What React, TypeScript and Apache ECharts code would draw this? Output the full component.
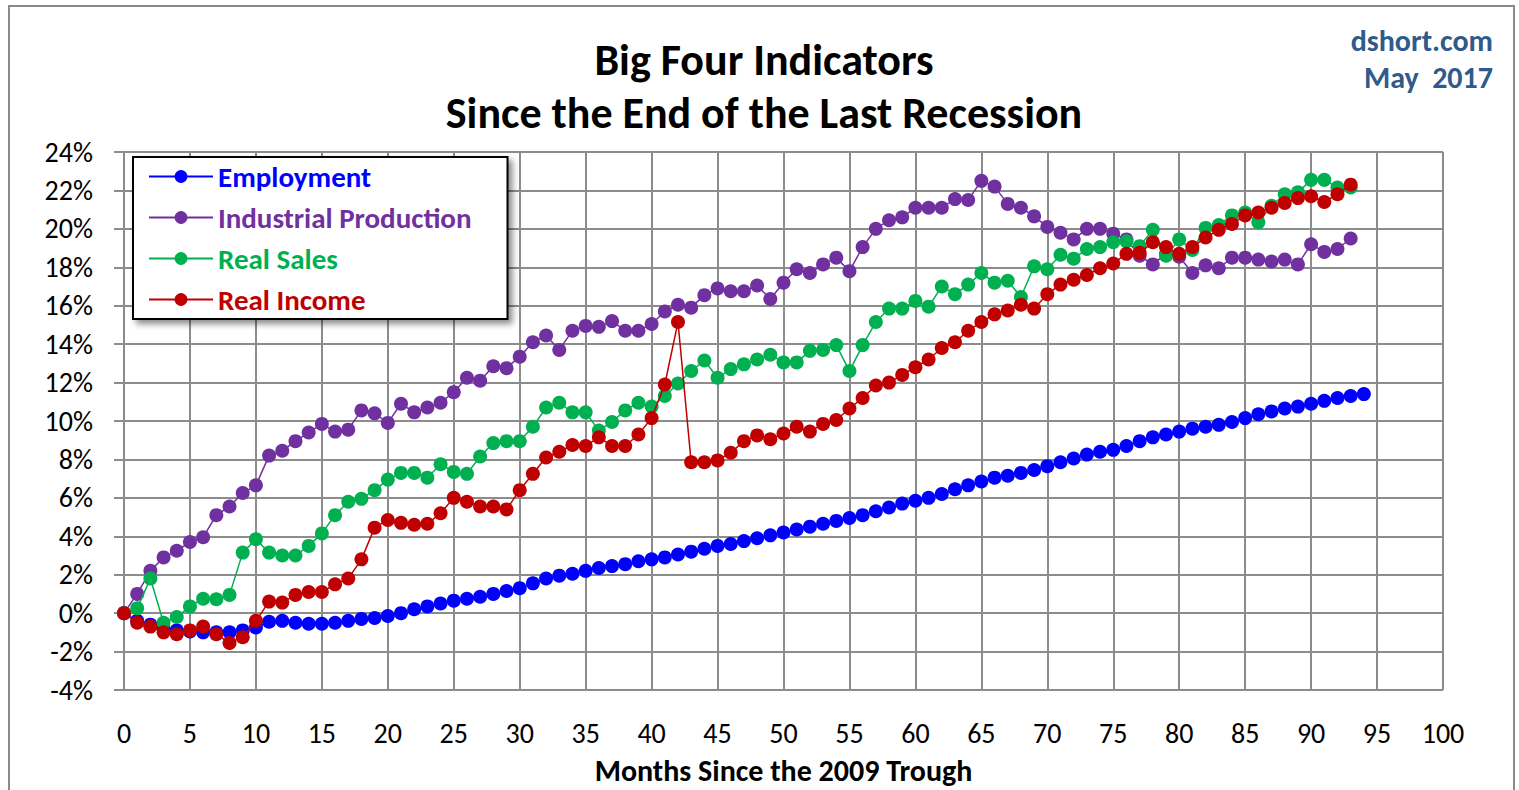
import React, { useEffect, useRef } from "react";
import * as echarts from "echarts";

const months: number[] = Array.from({ length: 101 }, (_, i) => i);

const seriesNames = ["Employment", "Industrial Production", "Real Sales", "Real Income"];
const seriesColors = ["#0000FF", "#7030A0", "#00B050", "#C00000"];

const employment = [
  0, -0.4, -0.6, -0.8, -0.9, -0.95, -1.0, -1.0, -1.0, -0.9,
  -0.75, -0.45, -0.4, -0.5, -0.55, -0.55, -0.5, -0.4, -0.3, -0.25,
  -0.15, 0.0, 0.2, 0.35, 0.5, 0.65, 0.75, 0.85, 1.0, 1.15,
  1.3, 1.55, 1.8, 1.95, 2.05, 2.2, 2.35, 2.45, 2.55, 2.7,
  2.8, 2.9, 3.05, 3.2, 3.35, 3.5, 3.6, 3.75, 3.9, 4.05,
  4.2, 4.35, 4.5, 4.65, 4.8, 4.95, 5.1, 5.3, 5.5, 5.7,
  5.85, 6.0, 6.2, 6.45, 6.65, 6.85, 7.05, 7.15, 7.3, 7.45,
  7.65, 7.85, 8.05, 8.25, 8.4, 8.5, 8.7, 8.95, 9.15, 9.3,
  9.45, 9.6, 9.7, 9.8, 9.95, 10.15, 10.35, 10.5, 10.65, 10.75,
  10.9, 11.05, 11.2, 11.3, 11.4,
];

const industrialProduction = [
  0, 1.0, 2.2, 2.9, 3.25, 3.7, 3.95, 5.1, 5.55, 6.25,
  6.65, 8.2, 8.45, 8.95, 9.4, 9.85, 9.45, 9.55, 10.55, 10.4,
  9.9, 10.9, 10.45, 10.7, 10.95, 11.5, 12.25, 12.1, 12.85, 12.75,
  13.35, 14.1, 14.45, 13.7, 14.7, 14.95, 14.9, 15.2, 14.7, 14.7,
  15.05, 15.7, 16.05, 15.9, 16.55, 16.9, 16.75, 16.75, 17.05, 16.35,
  17.2, 17.9, 17.7, 18.15, 18.5, 17.8, 19.05, 20.0, 20.45, 20.6,
  21.1, 21.1, 21.1, 21.55, 21.5, 22.5, 22.2, 21.3, 21.1, 20.65,
  20.1, 19.8, 19.45, 20.0, 20.0, 19.75, 19.45, 18.6, 18.15, 18.7,
  18.55, 17.7, 18.1, 17.95, 18.5, 18.5, 18.4, 18.3, 18.4, 18.15,
  19.2, 18.8, 18.95, 19.5,
];

const realSales = [
  0, 0.25, 1.8, -0.5, -0.2, 0.35, 0.75, 0.72, 0.95, 3.15,
  3.85, 3.15, 3.0, 3.0, 3.5, 4.15, 5.1, 5.8, 5.95, 6.4,
  6.95, 7.3, 7.3, 7.05, 7.75, 7.35, 7.25, 8.15, 8.85, 8.95,
  8.95, 9.7, 10.7, 10.95, 10.45, 10.45, 9.5, 9.95, 10.55, 10.95,
  10.75, 11.3, 11.95, 12.6, 13.15, 12.25, 12.7, 12.95, 13.2, 13.45,
  13.05, 13.05, 13.65, 13.7, 13.95, 12.6, 13.95, 15.15, 15.85, 15.85,
  16.25, 15.95, 17.0, 16.6, 17.1, 17.7, 17.2, 17.3, 16.45, 18.05,
  17.9, 18.65, 18.45, 18.95, 19.05, 19.3, 19.35, 19.1, 19.95, 18.6,
  19.45, 18.9, 20.05, 20.2, 20.7, 20.85, 20.35, 21.2, 21.8, 21.9,
  22.55, 22.55, 22.15, 22.15,
];

const realIncome = [
  0, -0.5, -0.7, -1.0, -1.1, -0.9, -0.7, -1.1, -1.55, -1.25,
  -0.4, 0.6, 0.55, 0.95, 1.1, 1.1, 1.5, 1.8, 2.8, 4.45,
  4.85, 4.7, 4.6, 4.65, 5.2, 6.0, 5.8, 5.55, 5.55, 5.4,
  6.4, 7.25, 8.1, 8.4, 8.75, 8.7, 9.15, 8.7, 8.7, 9.3,
  10.15, 11.9, 15.15, 7.85, 7.85, 7.95, 8.35, 8.95, 9.25, 9.05,
  9.35, 9.7, 9.45, 9.85, 10.05, 10.65, 11.2, 11.85, 12.0, 12.4,
  12.8, 13.2, 13.8, 14.1, 14.7, 15.15, 15.55, 15.75, 16.05, 15.85,
  16.6, 17.1, 17.35, 17.6, 17.95, 18.2, 18.7, 18.75, 19.3, 19.05,
  18.7, 19.05, 19.55, 19.95, 20.25, 20.7, 20.85, 21.1, 21.35, 21.6,
  21.7, 21.4, 21.8, 22.3,
];

const allValues = [employment, industrialProduction, realSales, realIncome];

const titleLines = ["Big Four Indicators", "Since the End of the Last Recession"];
const sourceLines = ["dshort.com", "May  2017"];
const xAxisTitle = "Months Since the 2009 Trough";

const FONT = "Carlito, 'Liberation Sans Narrow', 'DejaVu Sans Condensed', 'Open Sans', sans-serif";

export default function App() {
  const ref = useRef<HTMLDivElement>(null);
  useEffect(() => {
    document.body.style.margin = "0";
    if (!ref.current) return;
    const chart = echarts.init(ref.current, null, { renderer: "svg", width: 1519, height: 790 });
    const gridColor = "#8c8c8c";
    const option: any = {
      animation: false,
      backgroundColor: "#ffffff",
      textStyle: { fontFamily: FONT },
      graphic: [
        {
          type: "rect",
          shape: { x: 9, y: 6, width: 1505, height: 810 },
          style: { fill: "none", stroke: "#8a8a8a", lineWidth: 2 },
          silent: true,
        },
        {
          type: "text",
          x: 764,
          y: 60,
          style: {
            text: titleLines[0],
            font: `bold 44px ${FONT}`,
            fill: "#000",
            align: "center",
            verticalAlign: "middle",
          },
        },
        {
          type: "text",
          x: 764,
          y: 113,
          style: {
            text: titleLines[1],
            font: `bold 44px ${FONT}`,
            fill: "#000",
            align: "center",
            verticalAlign: "middle",
          },
        },
        {
          type: "text",
          x: 1493,
          y: 40,
          style: {
            text: sourceLines[0],
            font: `bold 30px ${FONT}`,
            fill: "#2F5A8C",
            align: "right",
            verticalAlign: "middle",
          },
        },
        {
          type: "text",
          x: 1493,
          y: 77,
          style: {
            text: sourceLines[1],
            font: `bold 30px ${FONT}`,
            fill: "#2F5A8C",
            align: "right",
            verticalAlign: "middle",
          },
        },
      ],
      legend: {
        orient: "vertical",
        left: 133,
        top: 157,
        padding: [5, 36, 5, 15],
        itemWidth: 64,
        itemHeight: 16,
        itemGap: 12,
        backgroundColor: "#ffffff",
        borderColor: "#000000",
        borderWidth: 2,
        shadowBlur: 6,
        shadowColor: "rgba(0,0,0,0.45)",
        shadowOffsetX: 4,
        shadowOffsetY: 4,
        textStyle: { fontSize: 29, fontWeight: "bold", fontFamily: FONT, lineHeight: 27 },
        data: seriesNames.map((n, i) => ({ name: n, textStyle: { color: seriesColors[i] } })),
      },
      grid: { left: 124, top: 152, width: 1319, height: 543, containLabel: false },
      xAxis: {
        type: "value",
        min: 0,
        max: 100,
        interval: 5,
        axisLine: { show: false },
        axisTick: { show: false },
        axisLabel: { fontSize: 28, color: "#000", margin: 29, fontFamily: FONT },
        splitLine: { show: true, lineStyle: { color: gridColor, width: 2 } },
        name: xAxisTitle,
        nameLocation: "middle",
        nameGap: 65,
        nameTextStyle: { fontSize: 30, fontWeight: "bold", color: "#000", fontFamily: FONT },
      },
      yAxis: {
        type: "value",
        min: -4,
        max: 24,
        interval: 2,
        axisLine: { show: false },
        axisTick: { show: true, length: 10, inside: false, lineStyle: { color: gridColor, width: 2 } },
        axisLabel: { fontSize: 28, color: "#000", margin: 31, formatter: "{value}%", fontFamily: FONT },
        splitLine: { show: true, lineStyle: { color: gridColor, width: 2 } },
      },
      series: seriesNames.map((name, si) => ({
        name,
        type: "line",
        symbol: "circle",
        symbolSize: 14,
        showSymbol: true,
        lineStyle: { color: seriesColors[si], width: 1.5 },
        itemStyle: { color: seriesColors[si] },
        data: allValues[si].map((v, i) => [months[i], v]),
        z: 2 + si,
      })),
    };
    chart.setOption(option);
    return () => chart.dispose();
  }, []);
  return <div ref={ref} style={{ width: 1519, height: 790 }} />;
}
